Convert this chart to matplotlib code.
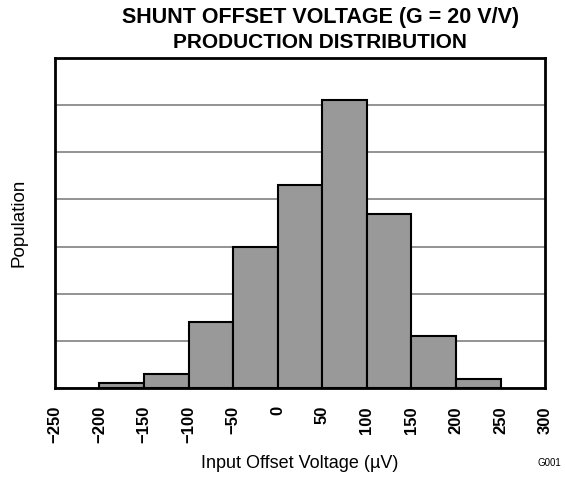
import matplotlib
matplotlib.use("Agg")
import matplotlib.pyplot as plt

plt.rcParams['font.family'] = ['Liberation Sans', 'DejaVu Sans']

bin_edges = [-200, -150, -100, -50, 0, 50, 100, 150, 200]
counts = [0.1, 0.3, 1.4, 3.0, 4.3, 6.1, 3.7, 1.1, 0.2]
bin_width = 50
xticks = [-250, -200, -150, -100, -50, 0, 50, 100, 150, 200, 250, 300]
xtick_labels = ['\u2212250', '\u2212200', '\u2212150', '\u2212100', '\u221250', '0', '50', '100', '150', '200', '250', '300']
title_lines = ['SHUNT OFFSET VOLTAGE (G = 20 V/V)', 'PRODUCTION DISTRIBUTION']

fig = plt.figure(figsize=(5.65, 4.79), dpi=100)
ax = fig.add_axes([0.097, 0.19, 0.868, 0.689])

ax.bar(bin_edges, counts, width=bin_width, align='edge', color='#999999',
       edgecolor='black', linewidth=1.5, zorder=3)

ax.set_xlim(-250, 300)
ax.set_ylim(0, 7)
ax.set_yticks(range(0, 8))
ax.set_yticklabels([])
ax.tick_params(axis='y', length=0)
ax.grid(axis='y', color='#808080', linewidth=1.2, zorder=0)

ax.set_xticks(xticks)
ax.set_xticklabels(xtick_labels, rotation=90, fontsize=12, fontweight='bold')
ax.tick_params(axis='x', length=0, pad=13)

for s in ax.spines.values():
    s.set_linewidth(2)
    s.set_color('black')

ax.set_xlabel('Input Offset Voltage (\u00b5V)', fontsize=13, labelpad=8)
ax.set_ylabel('Population', fontsize=13.5, labelpad=16)

fig.text(0.568, 0.9635, title_lines[0], fontsize=15.5, fontweight='bold',
         ha='center', va='center')
fig.text(0.566, 0.911, title_lines[1], fontsize=15, fontweight='bold',
         ha='center', va='center')

fig.text(0.973, 0.033, 'G001', fontsize=7, ha='center', va='center')

fig.savefig('out.png', dpi=100)
